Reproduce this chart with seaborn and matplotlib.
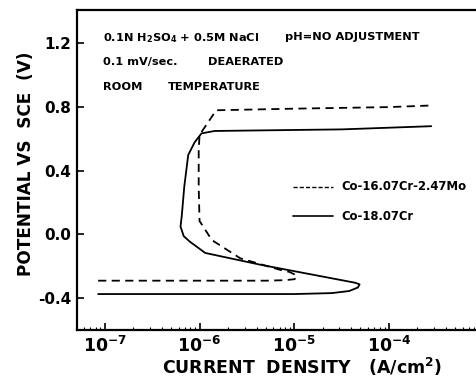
import numpy as np
import pandas as pd
import matplotlib
matplotlib.use("Agg")
import matplotlib.pyplot as plt
import seaborn as sns

# Co-16.07Cr-2.47Mo (dashed) : current density (A/cm2), potential (V vs SCE)
mo_current = [8.5e-8, 1e-6, 5e-6, 7.9e-6, 1.0e-5, 1.07e-5, 1.0e-5, 8.9e-6, 7.1e-6,
              2.7e-6, 1.35e-6, 1.0e-6, 9.8e-7, 9.8e-7, 1.0e-6, 1.5e-6, 1e-5, 1e-4, 2.8e-4]
mo_potential = [-0.29, -0.29, -0.29, -0.287, -0.281, -0.27, -0.25, -0.235, -0.222,
                -0.15, -0.035, 0.085, 0.3, 0.525, 0.625, 0.78, 0.79, 0.80, 0.81]

# Co-18.07Cr (solid)
cr_current = [8.5e-8, 1e-6, 1e-5, 2.5e-5, 3.8e-5, 4.7e-5, 4.9e-5, 4.4e-5, 4.4e-6,
              1.15e-6, 7.9e-7, 6.8e-7, 6.3e-7, 6.5e-7, 6.9e-7, 7.6e-7, 8.9e-7,
              1.05e-6, 1.45e-6, 3.2e-5, 2.8e-4]
cr_potential = [-0.374, -0.374, -0.374, -0.368, -0.355, -0.333, -0.313, -0.303, -0.19,
                -0.116, -0.045, -0.01, 0.05, 0.12, 0.3, 0.5, 0.58,
                0.635, 0.65, 0.66, 0.68]

x_ticks = [1e-7, 1e-6, 1e-5, 1e-4]
x_ticklabels = [r"$\mathbf{10^{-7}}$", r"$\mathbf{10^{-6}}$", r"$\mathbf{10^{-5}}$", r"$\mathbf{10^{-4}}$"]
y_ticks = [-0.4, 0.0, 0.4, 0.8, 1.2]
y_ticklabels = ["-0.4", "0.0", "0.4", "0.8", "1.2"]

sns.set_style("ticks")
plt.rcParams["font.family"] = ["DejaVu Sans"]
plt.rcParams["text.color"] = "black"
plt.rcParams["axes.labelcolor"] = "black"
plt.rcParams["xtick.color"] = "black"
plt.rcParams["ytick.color"] = "black"
plt.rcParams["axes.edgecolor"] = "black"

fig = plt.figure(figsize=(4.77, 3.82), dpi=100)
ax = fig.add_axes([0.161, 0.136, 0.839, 0.838])

df_mo = pd.DataFrame({"i": mo_current, "E": mo_potential})
df_cr = pd.DataFrame({"i": cr_current, "E": cr_potential})
sns.lineplot(data=df_mo, x="i", y="E", sort=False, estimator=None, color="black",
             lw=1.3, linestyle=(0, (4.5, 3)), ax=ax)
sns.lineplot(data=df_cr, x="i", y="E", sort=False, estimator=None, color="black",
             lw=1.3, ax=ax)

ax.set_xscale("log")
ax.set_xlim(10**-7.296, 10**-3.07)
ax.set_ylim(-0.6, 1.41)
ax.set_xticks(x_ticks)
ax.set_xticklabels(x_ticklabels, fontsize=12.5)
ax.set_yticks(y_ticks)
ax.set_yticklabels(y_ticklabels, fontsize=11, fontweight="bold")
ax.tick_params(axis="both", direction="in", length=5, width=1.2, pad=4)
ax.tick_params(axis="x", which="minor", direction="in", length=2, width=0.8)
ax.spines["right"].set_visible(False)
for s in ["left", "bottom", "top"]:
    ax.spines[s].set_linewidth(1.6)

ax.set_xlabel(r"CURRENT  DENSITY   (A/cm$^\mathbf{2}$)", fontsize=12.5, fontweight="bold")
ax.xaxis.set_label_coords(0.5625, -0.08)
ax.set_ylabel("POTENTIAL VS  SCE  (V)", fontsize=12.2, fontweight="bold")
ax.yaxis.set_label_coords(-0.105, 0.52)

# conditions text
tk = dict(fontsize=8.2, fontweight="bold", va="center", transform=ax.transAxes)
ax.text(0.065, 0.9125, r"0.1N H$_\mathbf{2}$SO$_\mathbf{4}$ + 0.5M NaCl", **tk)
ax.text(0.52, 0.915, "pH=NO ADJUSTMENT", **tk)
ax.text(0.065, 0.8375, "0.1 mV/sec.", **tk)
ax.text(0.3275, 0.8375, "DEAERATED", **tk)
ax.text(0.065, 0.759, "ROOM", **tk)
ax.text(0.2275, 0.759, "TEMPERATURE", **tk)

# legend drawn by hand
lx = [10**-5.015, 10**-4.59]
ax.plot(lx, [0.30, 0.30], color="black", lw=1.0, linestyle=(0, (3, 1.5)))
ax.plot(lx, [0.113, 0.113], color="black", lw=1.2)
ax.text(10**-4.5, 0.30, "Co-16.07Cr-2.47Mo", fontsize=8.4, fontweight="bold", va="center")
ax.text(10**-4.5, 0.113, "Co-18.07Cr", fontsize=8.4, fontweight="bold", va="center")

fig.savefig("out.png", dpi=100)
